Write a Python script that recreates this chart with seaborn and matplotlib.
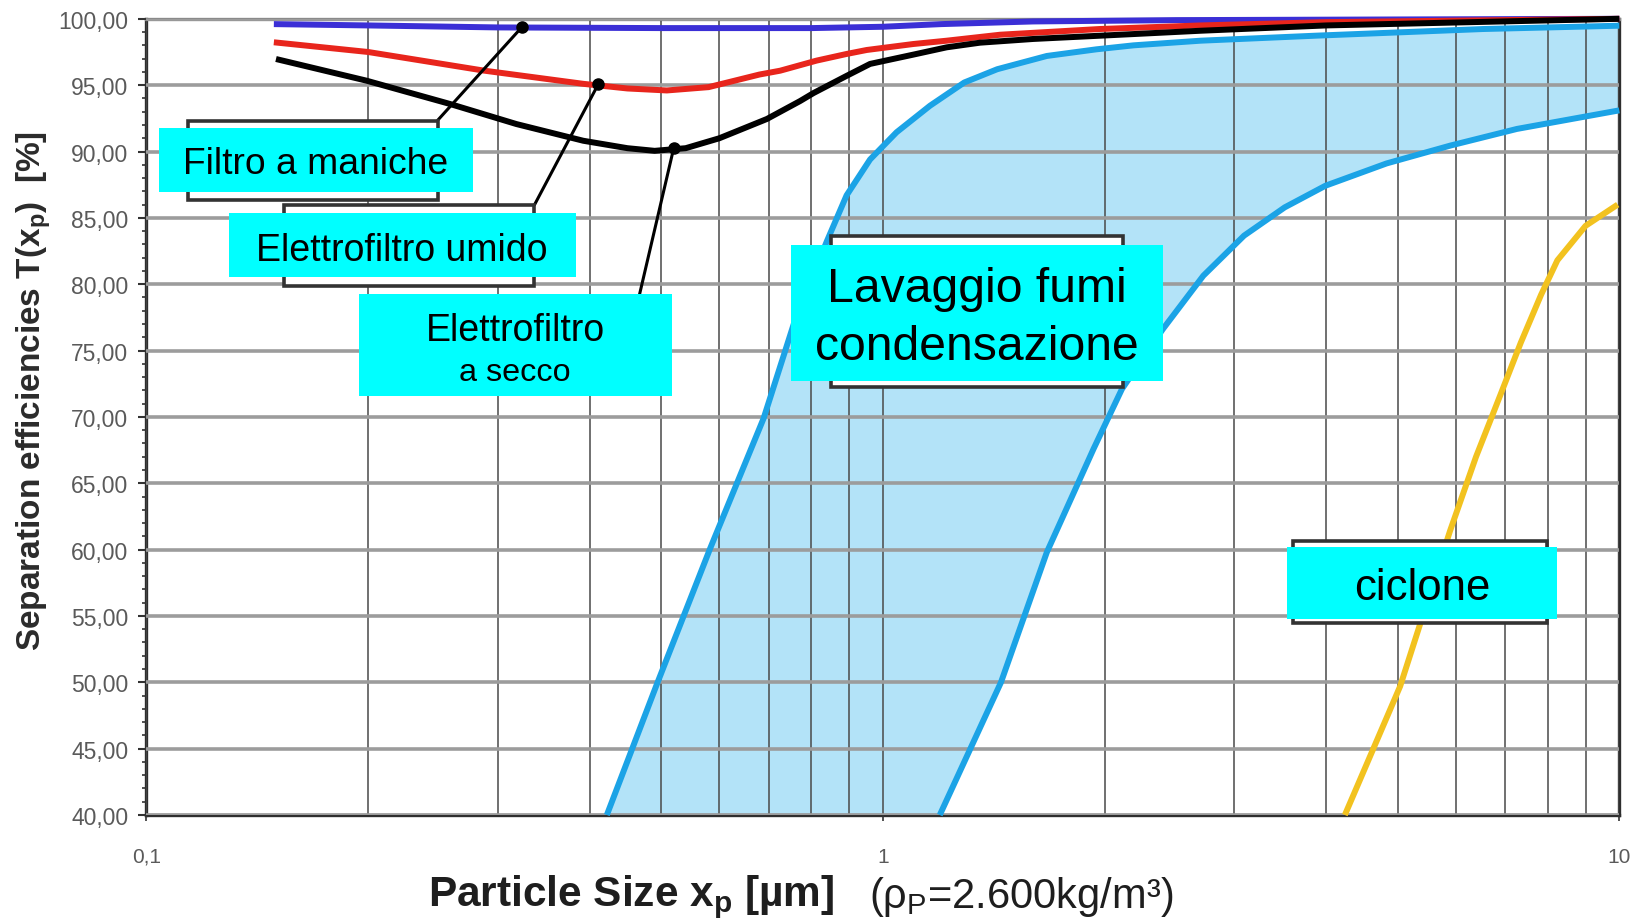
import numpy as np
import pandas as pd
import matplotlib
matplotlib.use("Agg")
import matplotlib.pyplot as plt
import seaborn as sns
from matplotlib.patches import Rectangle
from matplotlib.ticker import FixedLocator, FuncFormatter, MultipleLocator, NullFormatter

# ---------------------------------------------------------------------------
# Fractional separation efficiency T(xp) [%] versus particle size xp [µm]
# ---------------------------------------------------------------------------
filtro_x = [0.149, 0.20, 0.30, 0.50, 0.80, 1.00, 1.20, 1.60, 2.50, 5.00, 10.0]
filtro_y = [99.60, 99.50, 99.35, 99.30, 99.30, 99.40, 99.60, 99.80, 99.90, 99.95, 100.0]

umido_x = [0.149, 0.20, 0.287, 0.392, 0.45, 0.509, 0.58, 0.68, 0.7256, 0.813, 0.893,
           0.951, 1.10, 1.221, 1.443, 1.97, 2.70, 4.00, 10.0]
umido_y = [98.23, 97.50, 96.10, 95.10, 94.75, 94.60, 94.85, 95.80, 96.09, 96.85, 97.35,
           97.65, 98.10, 98.35, 98.80, 99.23, 99.50, 99.75, 100.0]

secco_x = [0.150, 0.199, 0.2585, 0.318, 0.392, 0.45, 0.49, 0.54, 0.60, 0.696, 0.772,
           0.805, 0.858, 0.893, 0.961, 1.10, 1.221, 1.355, 1.60, 2.19, 2.70, 4.00, 10.0]
secco_y = [96.97, 95.34, 93.58, 92.07, 90.81, 90.25, 90.05, 90.25, 91.00, 92.45, 93.80,
           94.40, 95.20, 95.70, 96.60, 97.30, 97.85, 98.20, 98.48, 98.85, 99.10, 99.50, 100.0]

lavaggio_alto_x = [0.422, 0.493, 0.583, 0.689, 0.758, 0.839, 0.893, 0.961, 1.044, 1.159,
                   1.29, 1.43, 1.67, 1.95, 2.19, 2.70, 3.88, 6.53, 10.0]
lavaggio_alto_y = [40.0, 49.8, 60.1, 69.9, 77.1, 83.2, 86.7, 89.4, 91.45, 93.45,
                   95.2, 96.2, 97.2, 97.7, 98.0, 98.35, 98.73, 99.23, 99.48]

lavaggio_basso_x = [1.195, 1.447, 1.67, 1.933, 2.112, 2.399, 2.724, 3.094, 3.513, 3.99,
                    4.83, 5.9, 7.26, 10.0]
lavaggio_basso_y = [40.0, 50.0, 59.8, 67.6, 72.1, 76.6, 80.64, 83.66, 85.79, 87.42,
                    89.1, 90.45, 91.7, 93.1]

ciclone_x = [4.24, 5.04, 5.89, 6.39, 6.90, 7.35, 7.83, 8.24, 9.00, 9.95]
ciclone_y = [40.0, 49.7, 61.4, 67.0, 71.7, 75.6, 79.2, 81.8, 84.4, 86.0]

# Points picked out by the callouts
callout_x = [0.3234, 0.411, 0.520]
callout_y = [99.36, 95.09, 90.23]

y_ticks = [40, 45, 50, 55, 60, 65, 70, 75, 80, 85, 90, 95, 100]
x_ticks = [0.1, 1, 10]
x_tick_labels = ["0,1", "1", "10"]

# ---------------------------------------------------------------------------
sns.set_theme(style="white")
plt.rcParams["font.family"] = ["Liberation Sans", "DejaVu Sans"]
plt.rcParams["mathtext.fontset"] = "custom"
plt.rcParams["mathtext.rm"] = "Liberation Sans"
plt.rcParams["mathtext.it"] = "Liberation Sans:italic"
plt.rcParams["mathtext.bf"] = "Liberation Sans:bold"

W, H = 1638, 920
fig = plt.figure(figsize=(W / 100, H / 100), dpi=100)
fig.patch.set_facecolor("white")
ax = fig.add_axes([146.3 / W, 1 - 816 / H, (1619.3 - 146.3) / W, (816 - 19.8) / H])


def fx(px):
    return px / W


def fy(py):
    return 1 - py / H


curves = pd.concat([
    pd.DataFrame({"xp": filtro_x, "T": filtro_y, "serie": "Filtro a maniche"}),
    pd.DataFrame({"xp": umido_x, "T": umido_y, "serie": "Elettrofiltro umido"}),
    pd.DataFrame({"xp": secco_x, "T": secco_y, "serie": "Elettrofiltro a secco"}),
    pd.DataFrame({"xp": lavaggio_alto_x, "T": lavaggio_alto_y, "serie": "Lavaggio alto"}),
    pd.DataFrame({"xp": lavaggio_basso_x, "T": lavaggio_basso_y, "serie": "Lavaggio basso"}),
    pd.DataFrame({"xp": ciclone_x, "T": ciclone_y, "serie": "Ciclone"}),
], ignore_index=True)

palette = {
    "Filtro a maniche": "#3b2fd6",
    "Elettrofiltro umido": "#e8251c",
    "Elettrofiltro a secco": "#000000",
    "Lavaggio alto": "#1ba3e6",
    "Lavaggio basso": "#1ba3e6",
    "Ciclone": "#f2c21f",
}

# Band covered by the scrubber / condensation units
band_x = lavaggio_alto_x + lavaggio_basso_x[::-1]
band_y = lavaggio_alto_y + lavaggio_basso_y[::-1]
ax.fill(band_x, band_y, color="#8fd6f5", alpha=0.68, lw=0, zorder=1)

sns.lineplot(data=curves, x="xp", y="T", hue="serie", palette=palette,
             units="serie", estimator=None, sort=False, lw=4.3,
             legend=False, ax=ax, zorder=4)
for ln in ax.get_lines():
    ln.set_clip_on(False)
    ln.set_solid_capstyle("butt")
    ln.set_solid_joinstyle("round")

ax.set_xscale("log")
ax.set_xlim(0.1, 10)
ax.set_ylim(40, 100)

# Grid: heavy horizontals every 5 %, thin verticals on every log subdivision
ax.yaxis.set_major_locator(FixedLocator(y_ticks))
ax.yaxis.set_minor_locator(MultipleLocator(1))
ax.yaxis.set_major_formatter(FuncFormatter(lambda v, p: f"{v:.2f}".replace(".", ",")))
ax.xaxis.set_major_locator(FixedLocator(x_ticks))
ax.xaxis.set_major_formatter(FuncFormatter(lambda v, p: x_tick_labels[x_ticks.index(v)] if v in x_ticks else ""))
minor_x = [m * d for d in (0.1, 1) for m in range(2, 10)]
ax.xaxis.set_minor_locator(FixedLocator(minor_x))
ax.xaxis.set_minor_formatter(NullFormatter())

ax.grid(axis="y", which="major", color="#9c9c9c", lw=2.6, zorder=2)
ax.grid(axis="x", which="both", color="#4a4a4a", lw=1.3, alpha=0.85, zorder=2)
ax.set_axisbelow(False)
for ln in ax.get_xgridlines() + ax.get_ygridlines():
    ln.set_zorder(2)

ax.tick_params(axis="y", which="major", length=6, width=1.5, color="#333333",
               labelsize=16.5, labelcolor="#5a5a5a", pad=7, direction="out", left=True)
ax.tick_params(axis="y", which="minor", length=3, width=1.2, color="#333333", left=True)
ax.tick_params(axis="x", which="major", length=4, width=1.2, color="#333333",
               labelsize=15, labelcolor="#5a5a5a", pad=19, bottom=True)
ax.tick_params(axis="x", which="minor", length=0)

for side in ("left", "bottom", "right"):
    ax.spines[side].set_color("#2e2e2e")
    ax.spines[side].set_linewidth(2.4)
ax.spines["top"].set_color("#8a8a8a")
ax.spines["top"].set_linewidth(2.4)

ax.set_xlabel("")
ax.set_ylabel("")

# Axis titles
fig.text(fx(34), fy(391), r"Separation efficiencies T(x$_\mathbf{p}$)  [%]",
         rotation=90, ha="center", va="center", fontsize=24, fontweight="bold",
         color="#2b2b2b")
fig.text(fx(428), fy(897), r"Particle Size x$_\mathbf{p}$ [µm]",
         ha="left", va="center", fontsize=30.5, fontweight="bold", color="#1e1e1e")
fig.text(fx(869), fy(897), r"(ρ$_\mathrm{P}$=2.600kg/m³)",
         ha="left", va="center", fontsize=30, color="#1e1e1e")


# Callout boxes: framed white box behind a cyan label
def frame(x0, y0, x1, y1):
    fig.add_artist(Rectangle((fx(x0), fy(y1)), (x1 - x0) / W, (y1 - y0) / H,
                             transform=fig.transFigure, facecolor="white",
                             edgecolor="#333333", lw=2.6, zorder=5))


def label_box(x0, y0, x1, y1):
    fig.add_artist(Rectangle((fx(x0), fy(y1)), (x1 - x0) / W, (y1 - y0) / H,
                             transform=fig.transFigure, facecolor="#00ffff",
                             edgecolor="none", zorder=6))


def box_text(px, py, s, size):
    fig.text(fx(px), fy(py), s, ha="center", va="center", fontsize=size,
             color="black", zorder=7)


# leader lines to the curves
starts = [(437.5, 121.5), (534.4, 206.0), (639.4, 296.0)]
for (sx, sy), cx, cy in zip(starts, callout_x, callout_y):
    ax.annotate("", xy=(cx, cy), xycoords="data", xytext=(fx(sx), fy(sy)),
                textcoords="figure fraction",
                arrowprops=dict(arrowstyle="-", color="black", lw=2.2,
                                shrinkA=0, shrinkB=0), zorder=5)
ax.plot(callout_x, callout_y, "o", color="black", ms=8, zorder=6, clip_on=False)

frame(187.5, 121.5, 437.5, 200.5)
label_box(159.4, 129.3, 473.2, 193.3)
box_text(316, 165, "Filtro a maniche", 26.8)

frame(283.9, 206.0, 534.4, 286.5)
label_box(228.6, 214.0, 575.9, 278.3)
box_text(402, 251, "Elettrofiltro umido", 27)

label_box(358.5, 295.0, 671.5, 397.3)
box_text(515, 331, "Elettrofiltro", 27)
box_text(515, 373, "a secco", 23.3)

frame(830.7, 237.0, 1123.4, 387.6)
label_box(790.9, 246.3, 1162.9, 382.0)
box_text(977, 290, "Lavaggio fumi", 34.7)
box_text(977, 348, "condensazione", 34.7)

frame(1293.0, 542.4, 1546.7, 623.5)
label_box(1286.7, 548.0, 1557.3, 619.6)
box_text(1422, 589, "ciclone", 31.5)

fig.savefig("out.png", dpi=100, facecolor="white")
